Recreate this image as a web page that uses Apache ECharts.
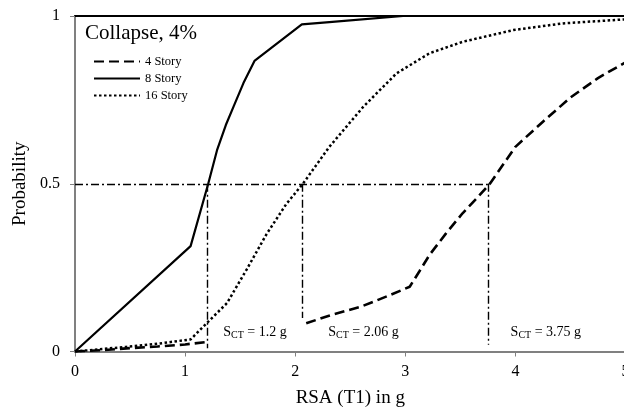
<!DOCTYPE html>
<html><head><meta charset="utf-8">
<script src="https://cdn.jsdelivr.net/npm/echarts@6/dist/echarts.min.js"></script>
<style>html,body{margin:0;padding:0;background:#fff}#c{width:624px;height:414px}</style>
</head><body><div id="c"></div>
<script>
// ---- data ----
const x4Story = [0, 0.25, 0.5, 0.75, 1.0, 1.21, 1.6, 2.1, 2.3, 2.6, 2.86, 3.04, 3.13, 3.22, 3.37, 3.52, 3.65, 3.77, 4.0, 4.25, 4.5, 4.75, 5.0];
const y4Story = [0, 0.004, 0.01, 0.015, 0.021, 0.029, null, 0.084, 0.106, 0.134, 0.168, 0.193, 0.24, 0.288, 0.352, 0.412, 0.457, 0.501, 0.61, 0.685, 0.757, 0.815, 0.862];

const x8Story = [0, 1.05, 1.21, 1.29, 1.37, 1.44, 1.53, 1.63, 2.06, 2.31, 2.98, 5.0];
const y8Story = [0, 0.314, 0.5, 0.6, 0.675, 0.73, 0.8, 0.866, 0.975, 0.982, 1.0, 1.0];

const x16Story = [0, 0.47, 0.77, 1.05, 1.21, 1.38, 1.56, 1.74, 1.92, 2.07, 2.31, 2.62, 2.92, 3.22, 3.52, 3.98, 4.43, 5.0];
const y16Story = [0, 0.014, 0.024, 0.036, 0.089, 0.144, 0.245, 0.35, 0.44, 0.5, 0.61, 0.73, 0.829, 0.889, 0.923, 0.958, 0.978, 0.99];

const sctValues = [1.2, 2.06, 3.75];
const sctLineBottom = [0.01, 0.1, 0.02];
const sctLabelX = [1.346, 2.299, 3.956];
const sctLabelY = 0.058;
const probLevel = 0.5;

const seriesNames = ['4 Story', '8 Story', '16 Story'];
const xTickLabels = ['0', '1', '2', '3', '4', '5'];
const yTickLabels = ['0', '0.5', '1'];

// ---- build ----
function pairs(xs, ys) {
  return xs.map((x, i) => [x, ys[i] === null ? '-' : ys[i]]);
}
const FONT = 'Liberation Serif';
const gray = '#808080';

const refLines = [[{coord: [0, probLevel]}, {coord: [sctValues[sctValues.length - 1], probLevel]}]];
sctValues.forEach((v, i) => refLines.push([{coord: [v, probLevel]}, {coord: [v, sctLineBottom[i]]}]));

const refLabels = sctValues.map((v, i) => ({
  coord: [sctLabelX[i], sctLabelY],
  label: {formatter: '{s|S}{sub|CT}{n| = ' + v + ' g}'}
}));

const chart = echarts.init(document.getElementById('c'), null, {renderer: 'canvas'});
chart.setOption({
  animation: false,
  backgroundColor: '#fff',
  textStyle: {fontFamily: FONT},
  title: {
    text: 'Collapse, 4%', left: 85, top: 23, padding: 0,
    textStyle: {fontFamily: FONT, fontSize: 21, fontWeight: 'normal', color: '#000'}
  },
  legend: {
    data: seriesNames, orient: 'vertical', left: 93, top: 55, padding: 0,
    itemWidth: 46, itemHeight: 14, itemGap: 4, selectedMode: false,
    itemStyle: {opacity: 0},
    textStyle: {fontFamily: FONT, fontSize: 12.5, color: '#000'}
  },
  grid: {left: 75, top: 16, width: 550.5, height: 335.5, containLabel: false, outerBoundsMode: 'none'},
  xAxis: [{
    type: 'value', min: 0, max: 5, interval: 1,
    name: 'RSA (T1) in g', nameLocation: 'middle', nameGap: 37,
    nameTextStyle: {fontFamily: FONT, fontSize: 19, color: '#000'},
    axisLine: {show: true, lineStyle: {color: gray, width: 2}},
    axisTick: {show: true, length: 5, lineStyle: {color: gray, width: 1}},
    axisLabel: {fontFamily: FONT, fontSize: 16, color: '#000', margin: 12,
      formatter: (v) => xTickLabels[Math.round(v)]},
    splitLine: {show: false}
  }, {
    type: 'value', min: 0, max: 5, position: 'top',
    axisLine: {show: true, onZero: false, lineStyle: {color: '#000', width: 2}},
    axisTick: {show: false}, axisLabel: {show: false}, splitLine: {show: false}
  }],
  yAxis: {
    type: 'value', min: 0, max: 1, interval: 0.5,
    name: 'Probability', nameLocation: 'middle', nameGap: 44, nameRotate: 90,
    nameTextStyle: {fontFamily: FONT, fontSize: 19, color: '#000'},
    axisLine: {show: true, lineStyle: {color: gray, width: 2}},
    axisTick: {show: true, length: 5, lineStyle: {color: gray, width: 1}},
    axisLabel: {fontFamily: FONT, fontSize: 16, color: '#000', margin: 15,
      formatter: (v) => yTickLabels[Math.round(v * 2)]},
    splitLine: {show: false}
  },
  series: [
    {
      name: 'ref', type: 'line', data: [], silent: true,
      markLine: {
        silent: true, symbol: ['none', 'none'], animation: false,
        label: {show: false},
        lineStyle: {color: '#000', width: 1.4, type: [8, 3, 2, 3]},
        emphasis: {disabled: true},
        data: refLines
      },
      markPoint: {
        silent: true, symbol: 'circle', symbolSize: 0.1, animation: false,
        itemStyle: {color: 'rgba(0,0,0,0)'},
        label: {
          show: true, position: 'right', distance: 0, color: '#000',
          rich: {
            s: {fontFamily: FONT, fontSize: 14, lineHeight: 16, color: '#000'},
            sub: {fontFamily: FONT, fontSize: 10, lineHeight: 10, verticalAlign: 'bottom', color: '#000'},
            n: {fontFamily: FONT, fontSize: 14, lineHeight: 16, color: '#000'}
          }
        },
        data: refLabels
      }
    },
    {
      name: seriesNames[0], type: 'line', data: pairs(x4Story, y4Story),
      symbol: 'none', connectNulls: false, color: '#000',
      lineStyle: {color: '#000', width: 2.6, type: [10, 5], cap: 'butt'}
    },
    {
      name: seriesNames[1], type: 'line', data: pairs(x8Story, y8Story),
      symbol: 'none', color: '#000', smooth: false,
      lineStyle: {color: '#000', width: 2.2, type: 'solid'}
    },
    {
      name: seriesNames[2], type: 'line', data: pairs(x16Story, y16Story),
      symbol: 'none', color: '#000',
      lineStyle: {color: '#000', width: 2.5, type: [2.5, 2.5], cap: 'butt'}
    }
  ]
});
</script>
</body></html>
